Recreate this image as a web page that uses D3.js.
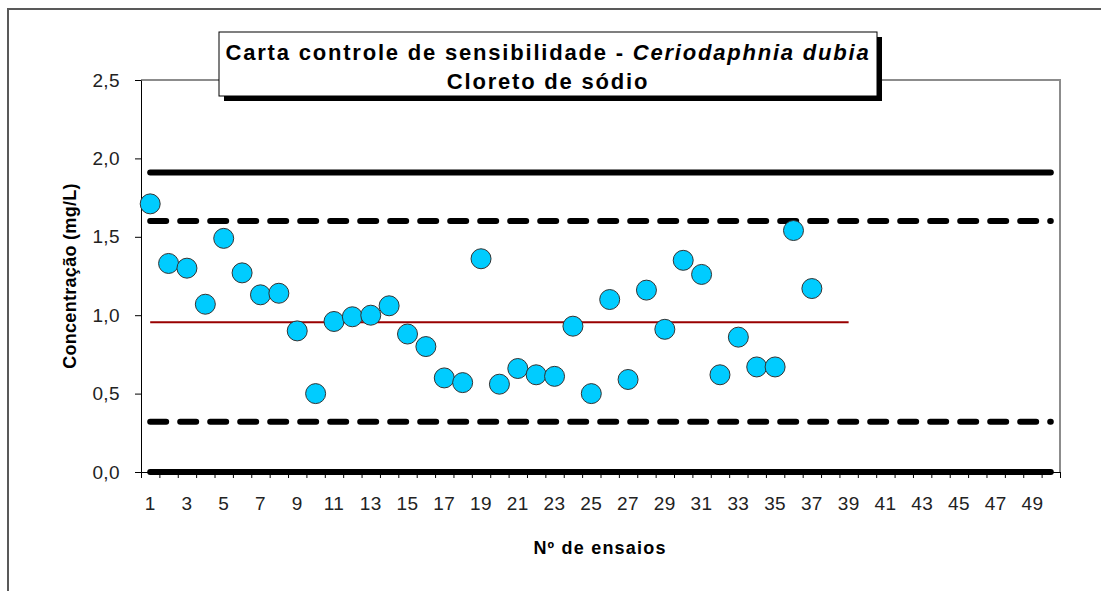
<!DOCTYPE html>
<html>
<head>
<meta charset="utf-8">
<script src="https://cdn.jsdelivr.net/npm/d3@7"></script>
<style>
  body { margin: 0; background: #fff; }
  svg { display: block; font-family: "Liberation Sans", Arial, sans-serif; }
</style>
</head>
<body>
<script>
// ensaios (x) and concentração (y)
var ensaios = [1,2,3,4,5,6,7,8,9,10,11,12,13,14,15,16,17,18,19,20,21,22,23,24,25,26,27,28,29,30,31,32,33,34,35,36,37];
var concentracao = [1.71,1.33,1.30,1.07,1.49,1.27,1.13,1.14,0.90,0.50,0.96,0.99,1.00,1.06,0.88,0.80,0.60,0.57,1.36,0.56,0.66,0.62,0.61,0.93,0.50,1.10,0.59,1.16,0.91,1.35,1.26,0.62,0.86,0.67,0.67,1.54,1.17];

// limites
var limiteSup3 = 1.91, limiteSup2 = 1.60, media = 0.955, limiteInf2 = 0.32, limiteInf3 = 0.0;
var mediaInicio = 1, mediaFim = 39;
var nCategorias = 50;
var yTicks = [0, 0.5, 1.0, 1.5, 2.0, 2.5];

var width = 1101, height = 591;
var margin = {left: 141, top: 80, right: 41, bottom: 119};
var plotW = width - margin.left - margin.right;
var plotH = height - margin.top - margin.bottom;

var categorias = d3.range(1, nCategorias + 1);

var svg = d3.select("body").append("svg")
  .attr("width", width)
  .attr("height", height);

// outer chart border (runs off the right/bottom edges)
svg.append("rect")
  .attr("x", 8).attr("y", 9)
  .attr("width", width + 20).attr("height", height + 20)
  .attr("fill", "#fff")
  .attr("stroke", "#595959")
  .attr("stroke-width", 2);

var g = svg.append("g").attr("transform", "translate(" + margin.left + "," + margin.top + ")");

var x = d3.scaleBand().domain(categorias).range([0, plotW]).padding(0);
var xEdge = d3.scaleLinear().domain([0, nCategorias]).range([0, plotW]);
var y = d3.scaleLinear().domain([0, 2.5]).range([plotH, 0]);
var cx = function(c) { return x(c) + x.bandwidth() / 2; };

// plot area border (top/right light gray)
g.append("path")
  .attr("d", "M0,0H" + plotW + "V" + plotH)
  .attr("fill", "none")
  .attr("stroke", "#8c8c8c")
  .attr("stroke-width", 2);

// y axis
var yAxis = g.append("g")
  .call(d3.axisLeft(y).tickValues(yTicks).tickSize(6).tickSizeOuter(0)
    .tickFormat(function(d) { return d3.format(".1f")(d).replace(".", ","); }));
yAxis.select(".domain").attr("stroke", "#000");
yAxis.selectAll(".tick line").attr("stroke", "#000");
yAxis.selectAll("text")
  .attr("x", -21)
  .attr("fill", "#222")
  .style("font-size", "19px")
  .style("letter-spacing", "0.4px")
  .style("font-family", "Liberation Sans, Arial, sans-serif");

// x axis tick marks at category edges
var xAxisTicks = g.append("g")
  .attr("transform", "translate(0," + plotH + ")")
  .call(d3.axisBottom(xEdge).tickValues(d3.range(0, nCategorias + 1)).tickSize(6).tickSizeOuter(0).tickFormat(""));
xAxisTicks.select(".domain").attr("stroke", "#000");
xAxisTicks.selectAll(".tick line").attr("stroke", "#000");

// x labels on odd categories
var xAxisLabels = g.append("g")
  .attr("transform", "translate(0," + plotH + ")")
  .call(d3.axisBottom(x).tickValues(categorias.filter(function(c) { return c % 2 === 1; })).tickSize(0));
xAxisLabels.select(".domain").remove();
xAxisLabels.selectAll("text")
  .attr("y", 25)
  .attr("fill", "#222")
  .style("font-size", "19px")
  .style("letter-spacing", "0.4px")
  .style("font-family", "Liberation Sans, Arial, sans-serif");

// limit lines
function linha(valor, dash) {
  g.append("line")
    .attr("x1", cx(1)).attr("x2", cx(nCategorias))
    .attr("y1", y(valor)).attr("y2", y(valor))
    .attr("stroke", "#000")
    .attr("stroke-width", 6)
    .attr("stroke-linecap", "round")
    .attr("stroke-dasharray", dash ? "16,14" : null);
}
linha(limiteSup3, false);
linha(limiteSup2, true);
linha(limiteInf2, true);
linha(limiteInf3, false);

// mean line
g.append("line")
  .attr("x1", cx(mediaInicio)).attr("x2", cx(mediaFim))
  .attr("y1", y(media)).attr("y2", y(media))
  .attr("stroke", "#990000")
  .attr("stroke-width", 2);

// points
g.selectAll("circle.pt")
  .data(ensaios)
  .enter().append("circle")
  .attr("class", "pt")
  .attr("cx", function(d) { return cx(d); })
  .attr("cy", function(d, i) { return y(concentracao[i]); })
  .attr("r", 10)
  .attr("fill", "#00CCFF")
  .attr("stroke", "#333")
  .attr("stroke-width", 1);

// axis titles
svg.append("text")
  .attr("transform", "translate(76," + (margin.top + plotH / 2) + ") rotate(-90)")
  .attr("text-anchor", "middle")
  .style("font-size", "18px")
  .style("font-weight", "bold")
  .style("letter-spacing", "0.3px")
  .text("Concentração (mg/L)");

svg.append("text")
  .attr("x", 600).attr("y", 554)
  .attr("text-anchor", "middle")
  .style("font-size", "18px")
  .style("font-weight", "bold")
  .style("letter-spacing", "1.2px")
  .text("Nº de ensaios");

// title box with shadow
var tb = {x: 219, y: 32, w: 658, h: 64};
svg.append("rect")
  .attr("x", tb.x + 5).attr("y", tb.y + 5)
  .attr("width", tb.w).attr("height", tb.h)
  .attr("fill", "#000");
svg.append("rect")
  .attr("x", tb.x).attr("y", tb.y)
  .attr("width", tb.w).attr("height", tb.h)
  .attr("fill", "#fff")
  .attr("stroke", "#000")
  .attr("stroke-width", 1);

var t1 = svg.append("text")
  .attr("x", tb.x + tb.w / 2).attr("y", 60)
  .attr("text-anchor", "middle")
  .style("font-size", "22px")
  .style("font-weight", "bold")
  .style("letter-spacing", "1.8px");
t1.append("tspan").text("Carta controle de sensibilidade - ");
t1.append("tspan").style("font-style", "italic").text("Ceriodaphnia dubia");

svg.append("text")
  .attr("x", tb.x + tb.w / 2).attr("y", 89)
  .attr("text-anchor", "middle")
  .style("font-size", "22px")
  .style("font-weight", "bold")
  .style("letter-spacing", "1.8px")
  .text("Cloreto de sódio");
</script>
</body>
</html>
